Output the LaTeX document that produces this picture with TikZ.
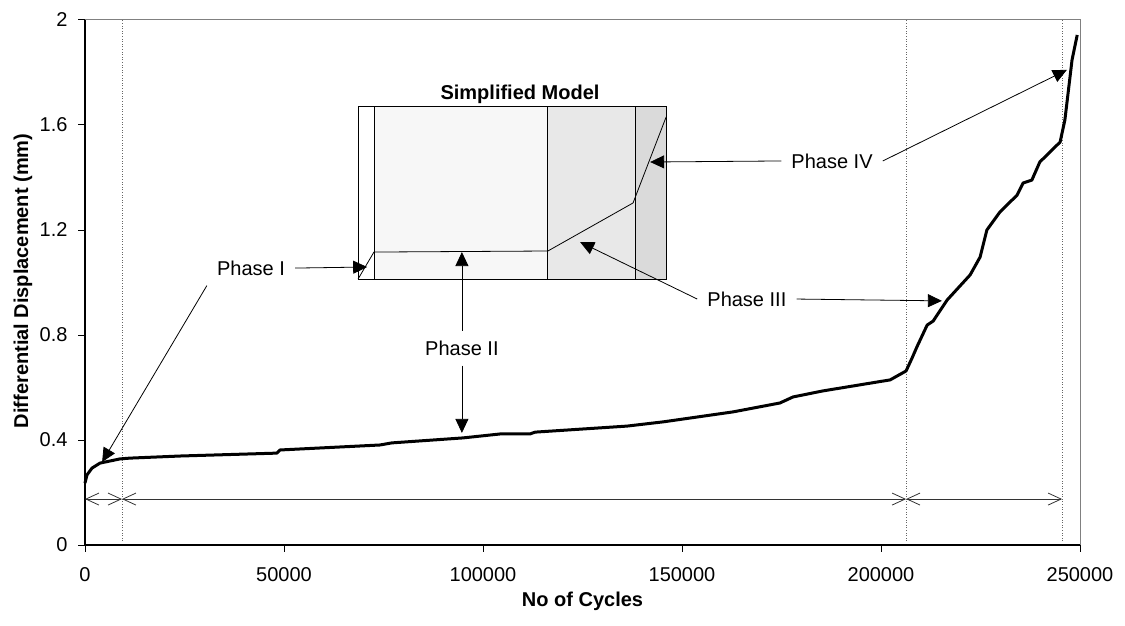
\documentclass[tikz,border=0pt]{standalone}
\usepackage{fontspec}
\setmainfont{Liberation Sans}
\usetikzlibrary{arrows.meta}
\definecolor{zoneB}{HTML}{F7F7F7}
\definecolor{zoneC}{HTML}{E8E8E8}
\definecolor{zoneD}{HTML}{DADADA}

\begin{document}
\begin{tikzpicture}[x=3.98pt, y=262.5pt,
  every node/.style={font=\fontsize{20}{24}\selectfont},
  title/.style={font=\fontsize{20}{24}\selectfont\bfseries},
  phase/.style={inner sep=10pt},
  pointer/.style={-{Triangle[length=14pt,width=13pt]}, line width=.8pt},
  span/.style={{Straight Barb[length=13pt,width=12pt]}-{Straight Barb[length=13pt,width=12pt]},
    black!80, line width=.8pt},
  guide/.style={dotted, black!60, line width=.6pt},
  curve/.style={line width=3pt, line join=round}]
  \useasboundingbox (-21.357,-0.3048) rectangle (261.307,2.0762);

  % frame and axes
  \draw[gray, line width=1pt] (0,2) -- (250,2) -- (250,0);
  \draw[line width=1.2pt] (0,2) -- (0,0) -- (250,0);
  \foreach \y [count=\i] in {0,0.4,0.8,1.2,1.6,2}
    \draw[line width=1pt] (0,\y) -- ++(-7pt,0)
      node[anchor=east, inner sep=0pt, xshift=-10pt] (ytick\i) {\y};
  \foreach \x/\t [count=\i] in {0/0,50/50000,100/100000,150/150000,200/200000,250/250000}
    \draw[line width=1pt] (\x,0) -- ++(0,-7pt)
      node[anchor=north, inner sep=0pt, yshift=-15pt] (xtick\i) {\t};
  \node[title, rotate=90, anchor=base] (ylab) at (-14.3,1.006) {Differential Displacement (mm)};
  \node[title, anchor=base] (xlab) at (125,-0.236) {No of Cycles};

  % phase boundaries
  \foreach \x in {9.3,206.3,245.5}
    \draw[guide] (\x,0.015) -- (\x,2);
  \coordinate (d0) at (0,0.175);
  \coordinate (d1) at (9.3,0.175);
  \coordinate (d2) at (206.3,0.175);
  \coordinate (d3) at (245.5,0.175);
  \draw[span] (d0) -- (d1);
  \draw[span] (d1) -- (d2);
  \draw[span] (d2) -- (d3);

  % measured displacement
  \draw[curve] plot coordinates {
    (0,0.236) (0.5,0.267) (1.76,0.293) (3.77,0.312) (8.8,0.328) (11.3,0.331)
    (23.9,0.339) (48.2,0.350) (49.0,0.362) (74.1,0.381) (77.1,0.389)
    (95.0,0.408) (104.3,0.423) (111.8,0.423) (113.1,0.430) (136.2,0.453)
    (145.2,0.469) (162.8,0.507) (174.6,0.541) (177.9,0.564) (185.4,0.587)
    (202.3,0.629) (206.3,0.663) (207.8,0.712) (209.0,0.754) (211.6,0.838)
    (213.1,0.853) (216.6,0.933) (222.4,1.029) (224.9,1.097) (226.6,1.2)
    (229.9,1.269) (234.2,1.333) (235.7,1.379) (237.9,1.390) (239.9,1.459)
    (245.0,1.535) (246.2,1.619) (248.0,1.848) (249.3,1.943)};

  % simplified model
  \fill[white] (68.6,1.013) rectangle (72.6,1.669);
  \fill[zoneB] (72.6,1.013) rectangle (116.3,1.669);
  \fill[zoneC] (116.3,1.013) rectangle (138.2,1.669);
  \fill[zoneD] (138.2,1.013) rectangle (146.2,1.669);
  \draw[line width=.8pt] (68.6,1.013) rectangle (146.2,1.669);
  \draw[line width=.8pt] (72.6,1.013) -- (72.6,1.669)
    (116.3,1.013) -- (116.3,1.669) (138.2,1.013) -- (138.2,1.669);
  \draw[line width=.8pt] (68.6,1.013) -- (72.6,1.116) -- (116.3,1.12)
    -- (137.7,1.303) -- (146.0,1.630);
  \node[title, anchor=base] (model) at (109.3,1.699) {Simplified Model};

  % phase labels
  \node[phase] (p1) at (41.7,1.055) {Phase I};
  \node[phase] (p2) at (94.7,0.750) {Phase II};
  \node[phase] (p3) at (166.3,0.937) {Phase III};
  \node[phase] (p4) at (187.7,1.463) {Phase IV};
  \coordinate (p1a) at (70.9,1.059);
  \coordinate (p1b) at (4.3,0.316);
  \coordinate (p2a) at (94.7,1.116);
  \coordinate (p2b) at (94.7,0.427);
  \coordinate (p3a) at (124.4,1.154);
  \coordinate (p3b) at (215.3,0.930);
  \coordinate (p4a) at (142.0,1.459);
  \coordinate (p4b) at (246.7,1.810);
  \draw[pointer] (p1.east) -- (p1a);
  \draw[pointer] (p1.south west) -- (p1b);
  \draw[pointer] (p2.north) -- (p2a);
  \draw[pointer] (p2.south) -- (p2b);
  \draw[pointer] (p3.west) -- (p3a);
  \draw[pointer] (p3.east) -- (p3b);
  \draw[pointer] (p4.west) -- (p4a);
  \draw[pointer] (p4.east) -- (p4b);
\end{tikzpicture}
\end{document}
